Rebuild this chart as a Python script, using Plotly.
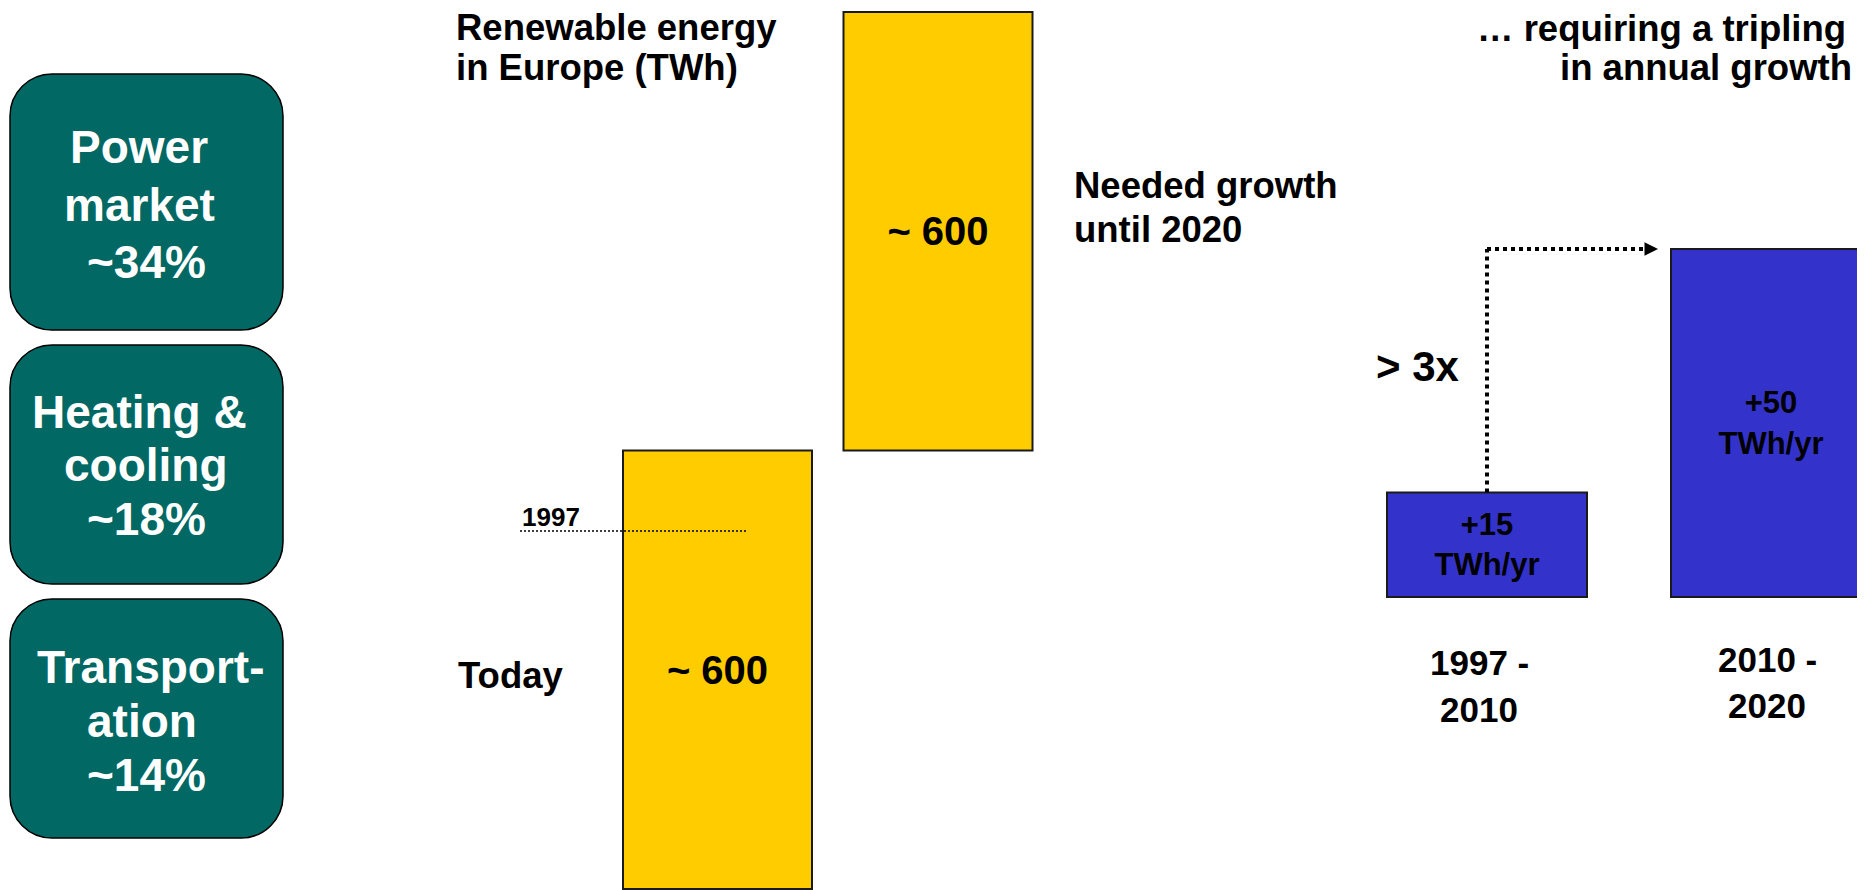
import plotly.graph_objects as go

# ---------------- data ----------------
sector_lines = [["Power", "market"], ["Heating &", "cooling"], ["Transport-", "ation"]]
sector_shares = [34, 18, 14]          # % share

energy_categories = ["Today", "Needed growth until 2020"]
energy_values = [600, 600]            # TWh (approx.)
level_1997 = 490                      # TWh, dotted 1997 marker

growth_periods = ["1997 - 2010", "2010 - 2020"]
growth_rates = [15, 50]               # TWh/yr
growth_ratio_label = "> 3x"

title_left = ["Renewable energy", "in Europe (TWh)"]
title_mid = ["Needed growth", "until 2020"]
title_right = ["\u2026 requiring a tripling", "in annual growth"]

# ---------------- style / layout constants ----------------
W, H = 1865, 890
OFF = 8                 # page body margin: screen px = figure px + OFF
FONT = "Liberation Sans, Arial, sans-serif"
TEAL = "#016864"
YELLOW = "#FFCC00"
BLUE = "#3333CC"
EDGE = "#1a1a1a"


def fx(px):   # screen px -> paper x
    return (px - OFF) / W


def fy(py):   # screen px (from top) -> paper y
    return 1 - (py - OFF) / H


fig = go.Figure()

# ---- yellow waterfall (x / y axes) ----
Y_SLOT = 220.5          # px per category
Y_X0 = 607.25 - OFF     # figure px of category -0.5
Y_BASE = 889 - OFF      # figure px of value 0
Y_TOP = 12 - OFF        # figure px of top of stack
y_scale = (Y_BASE - Y_TOP) / sum(energy_values)
fig.add_trace(go.Bar(
    x=energy_categories, y=energy_values,
    base=[0, energy_values[0]],
    width=189 / Y_SLOT,
    marker=dict(color=YELLOW, line=dict(color=EDGE, width=2)),
    text=[f"~ {v}" for v in energy_values],
    textposition="inside", insidetextanchor="middle", textangle=0,
    textfont=dict(family=FONT, size=40, color="black", weight="bold"),
    xaxis="x", yaxis="y", hoverinfo="skip",
))

# ---- blue growth bars (x2 / y2 axes) ----
B_SLOT = 284
B_X0 = 1345 - OFF
B_BASE = 597 - OFF
b_scale = 348 / growth_rates[1]
b_width = 200 / B_SLOT
fig.add_trace(go.Bar(
    x=growth_periods, y=growth_rates,
    width=b_width,
    marker=dict(color=BLUE, line=dict(color=EDGE, width=2)),
    text=[f"+{v}<br>TWh/yr" for v in growth_rates],
    textposition="inside", insidetextanchor="middle", textangle=0,
    textfont=dict(family=FONT, size=31, color="black", weight="bold"),
    xaxis="x2", yaxis="y2", hoverinfo="skip",
))

ax_common = dict(visible=False, showgrid=False, zeroline=False, fixedrange=True)
fig.update_layout(
    width=W, height=H, autosize=False,
    margin=dict(l=0, r=0, t=0, b=0, pad=0),
    paper_bgcolor="white", plot_bgcolor="rgba(0,0,0,0)",
    showlegend=False, barmode="overlay",
    xaxis=dict(ax_common, type="category", domain=[0, 1], anchor="y",
               range=[(0 - Y_X0) / Y_SLOT - 0.5, (W - Y_X0) / Y_SLOT - 0.5]),
    yaxis=dict(ax_common, domain=[0, 1], anchor="x",
               range=[(Y_BASE - H) / y_scale, Y_BASE / y_scale]),
    xaxis2=dict(ax_common, type="category", domain=[0, 1], anchor="y2",
                range=[(0 - B_X0) / B_SLOT - 0.5, (W - B_X0) / B_SLOT - 0.5]),
    yaxis2=dict(ax_common, domain=[0, 1], anchor="x2",
                range=[(B_BASE - H) / b_scale, B_BASE / b_scale]),
)


# ---- helpers ----
def label(text, x_px, ymid_px, size, anchor="center", color="black"):
    fig.add_annotation(x=fx(x_px), y=fy(ymid_px), xref="paper", yref="paper",
                       text=text, showarrow=False, xanchor=anchor, yanchor="middle",
                       borderpad=0,
                       font=dict(family=FONT, size=size, color=color, weight="bold"))


def rounded_rect(x0, y0, x1, y1, r):
    k = 0.5523 * r
    X, Y = fx, fy
    return (f"M{X(x0 + r)},{Y(y0)} L{X(x1 - r)},{Y(y0)} "
            f"C{X(x1 - r + k)},{Y(y0)} {X(x1)},{Y(y0 + r - k)} {X(x1)},{Y(y0 + r)} "
            f"L{X(x1)},{Y(y1 - r)} "
            f"C{X(x1)},{Y(y1 - r + k)} {X(x1 - r + k)},{Y(y1)} {X(x1 - r)},{Y(y1)} "
            f"L{X(x0 + r)},{Y(y1)} "
            f"C{X(x0 + r - k)},{Y(y1)} {X(x0)},{Y(y1 - r + k)} {X(x0)},{Y(y1 - r)} "
            f"L{X(x0)},{Y(y0 + r)} "
            f"C{X(x0)},{Y(y0 + r - k)} {X(x0 + r - k)},{Y(y0)} {X(x0 + r)},{Y(y0)} Z")


# ---- sector boxes ----
boxes = [(10, 74, 283, 330), (10, 345, 283, 584), (10, 599, 283, 838)]
line_pos = [[(139, 146.5), (139.5, 205), (146, 262.5)],
            [(139, 411.5), (146, 465), (146.5, 519)],
            [(150, 667), (142, 721), (146.5, 775)]]
for (bx0, by0, bx1, by1), lines, share, pos in zip(boxes, sector_lines, sector_shares, line_pos):
    fig.add_shape(type="path", xref="paper", yref="paper",
                  path=rounded_rect(bx0, by0, bx1, by1, 42),
                  fillcolor=TEAL, line=dict(color="black", width=1.5), layer="below")
    for txt, (lx, ly) in zip(lines + [f"~{share}%"], pos):
        label(txt, lx, ly, 46, color="white")

# ---- titles ----
label(title_left[0], 455, 27.5, 36.5, "left")
label(title_left[1], 455, 67.5, 36.5, "left")
label(title_mid[0], 1073, 185, 36.5, "left")
label(title_mid[1], 1073, 229, 36.5, "left")
label(title_right[0], 1847, 28.5, 36.5, "right")
label(title_right[1], 1853, 67, 36.5, "right")
label(energy_categories[0], 457, 675, 36.5, "left")

# ---- 1997 marker ----
fig.add_shape(type="line", xref="paper", yref="y", x0=fx(520), x1=fx(746),
              y0=level_1997, y1=level_1997,
              line=dict(color="black", width=1.5, dash="2px,2px"))
label("1997", 521, 516.5, 26, "left")

# ---- growth arrow ----
tip = 1 - b_width / 2 - 13 / B_SLOT
base = tip - 14 / B_SLOT
dot = dict(color="black", width=4, dash="4px,4px")
fig.add_shape(type="line", xref="x2", yref="y2", x0=0, x1=0,
              y0=growth_rates[0], y1=growth_rates[1], line=dot)
fig.add_shape(type="line", xref="x2", yref="y2", x0=0, x1=base,
              y0=growth_rates[1], y1=growth_rates[1], line=dot)
fig.add_annotation(x=tip, y=growth_rates[1], xref="x2", yref="y2", text="",
                   showarrow=True, ax=-14, ay=0, arrowhead=2, arrowsize=0.9,
                   arrowwidth=3, arrowcolor="black", standoff=0)
label(growth_ratio_label, 1375, 367, 42, "left")

# ---- period labels ----
period_pos = [(1479, 662.5, 709), (1767, 659.5, 705)]
for period, (cx, y1, y2) in zip(growth_periods, period_pos):
    a, b = period.split(" - ")
    label(f"{a} -", cx, y1, 35)
    label(b, cx, y2, 35)

fig.write_html("out.html")
